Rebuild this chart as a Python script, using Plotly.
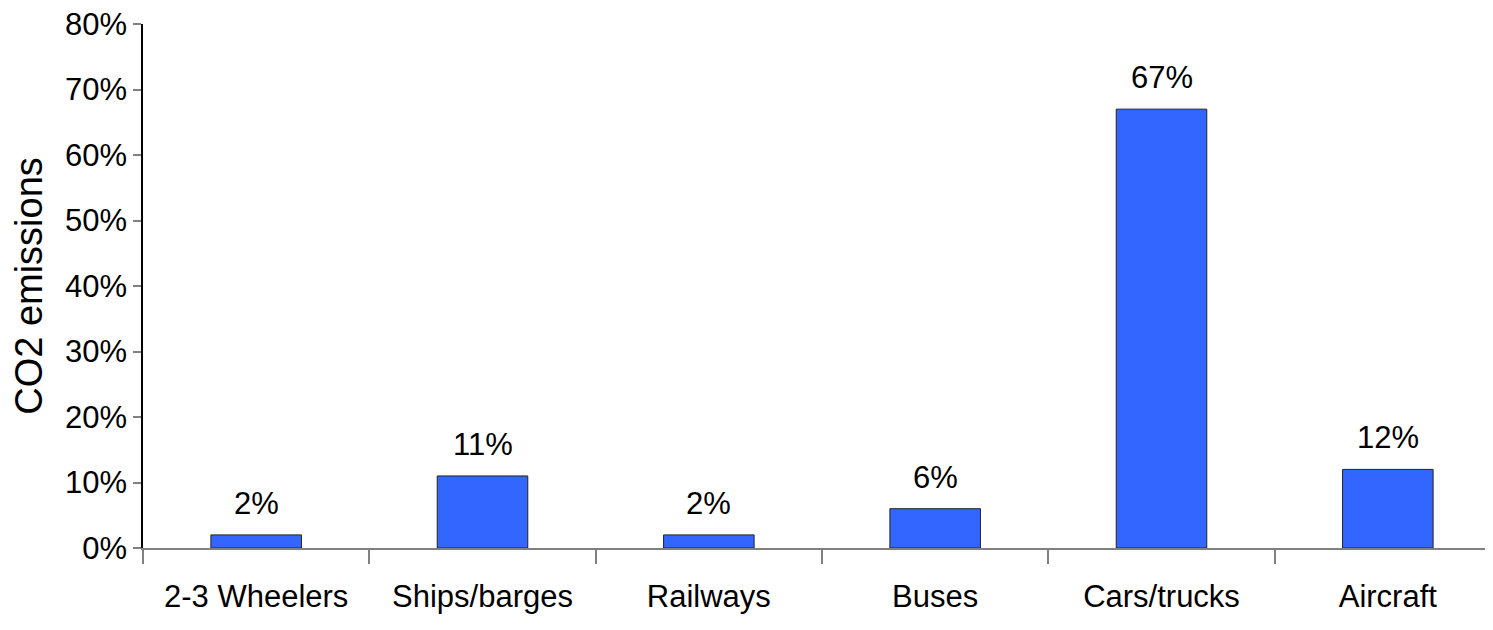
import plotly.graph_objects as go

categories = ["2-3 Wheelers", "Ships/barges", "Railways", "Buses", "Cars/trucks", "Aircraft"]
shares = [0.02, 0.11, 0.02, 0.06, 0.67, 0.12]
y_ticks = [0, 0.1, 0.2, 0.3, 0.4, 0.5, 0.6, 0.7, 0.8]
y_tick_labels = ["0%", "10%", "20%", "30%", "40%", "50%", "60%", "70%", "80%"]

FONT = "Liberation Sans, Arial, sans-serif"
TXT = 31

fig = go.Figure()
fig.add_trace(go.Bar(
    x=categories, y=shares, width=0.4,
    marker=dict(color="#3366FF", line=dict(color="#222222", width=1)),
    hoverinfo="skip",
))

for c, v in zip(categories, shares):
    fig.add_annotation(x=c, y=v, text=f"{round(v*100)}%", showarrow=False,
                       yanchor="bottom", yshift=12,
                       font=dict(family=FONT, size=TXT, color="black"))

fig.update_layout(
    width=1493, height=630,
    margin=dict(l=135, r=0, t=16, b=90),
    paper_bgcolor="white", plot_bgcolor="white",
    showlegend=False,
    font=dict(family=FONT, size=TXT, color="black"),
)
fig.update_xaxes(
    type="category", range=[-0.5, 5.5],
    showline=True, linecolor="#808080", linewidth=1.5,
    ticks="outside", tickson="boundaries", ticklen=14, tickcolor="#808080", tickwidth=1.5,
    ticklabelstandoff=20,
    showgrid=False, zeroline=False,
    tickfont=dict(family=FONT, size=TXT, color="black"),
)
fig.update_yaxes(
    range=[0, 0.8], tickvals=y_ticks, ticktext=y_tick_labels,
    showline=True, linecolor="black", linewidth=1.5,
    ticks="outside", ticklen=8, tickcolor="#808080", tickwidth=1.5,
    ticklabeloverflow="allow",
    showgrid=False, zeroline=False,
    tickfont=dict(family=FONT, size=TXT, color="black"),
    title=dict(text="CO2 emissions", font=dict(family=FONT, size=38, color="black"), standoff=14),
)

fig.write_html("out.html")
